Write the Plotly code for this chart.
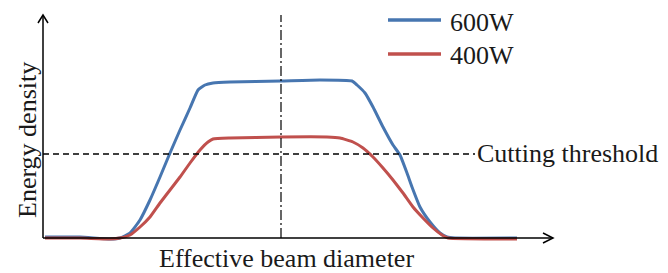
import plotly.graph_objects as go

# Beam position (0 = beam centre) and relative energy density
x_600 = [-236, -201, -171, -161, -151, -141, -131, -121, -111, -101, -91, -83, -76, -68, -51, 0, 39, 71,
         76, 84, 92, 102, 112, 119, 126, 131, 139, 149, 159, 166, 174, 236]
y_600 = [1, 1, -1, 0, 5, 18, 38, 61, 85, 108, 130, 148, 153, 155, 156, 157, 158, 157,
         153, 145, 131, 111, 93, 83, 65, 51, 31, 16, 5, 1, 0, 0]

x_400 = [-236, -201, -171, -161, -151, -141, -131, -121, -111, -101, -91, -81, -73, -68, -51, 0, 46, 59,
         72, 82, 92, 102, 112, 122, 132, 142, 152, 161, 167, 236]
y_400 = [0, 0, -1, 0, 3, 11, 21, 35, 48, 61, 75, 88, 96, 99, 100, 101, 101, 100,
         96, 90, 81, 70, 58, 45, 31, 20, 10, 3, 0, -1]

threshold = 84
series_names = ["600W", "400W"]
colors = ["#4776B0", "#C0504D"]

FONT = "Liberation Serif"
TXT = "#1a1a1a"

fig = go.Figure()
fig.add_trace(go.Scatter(x=x_600, y=y_600, mode="lines", name=series_names[0],
                         line=dict(color=colors[0], width=3, shape="spline", smoothing=0.4),
                         showlegend=False))
fig.add_trace(go.Scatter(x=x_400, y=y_400, mode="lines", name=series_names[1],
                         line=dict(color=colors[1], width=3, shape="spline", smoothing=0.4),
                         showlegend=False))

shapes = []
# axes
shapes.append(dict(type="line", x0=-238, x1=-238, y0=0, y1=222, line=dict(color="black", width=1.5)))
shapes.append(dict(type="line", x0=-238, x1=272, y0=0, y1=0, line=dict(color="black", width=1.5)))
# arrow heads
shapes.append(dict(type="path", path="M -243,215 L -238,223 L -233,215", line=dict(color="black", width=1.5)))
shapes.append(dict(type="path", path="M 262,5 L 272,0 L 262,-5", line=dict(color="black", width=1.5)))
# centre line
shapes.append(dict(type="line", x0=0, x1=0, y0=0, y1=223,
                   line=dict(color="black", width=1.2, dash="10px,3px,2px,3px")))
# threshold
shapes.append(dict(type="line", x0=-238, x1=194, y0=threshold, y1=threshold,
                   line=dict(color="black", width=1.5, dash="6px,4px")))
# legend samples
shapes.append(dict(type="line", x0=107, x1=160, y0=218, y1=218, line=dict(color=colors[0], width=3.5)))
shapes.append(dict(type="line", x0=107, x1=160, y0=184, y1=184, line=dict(color=colors[1], width=3.5)))

annotations = [
    dict(x=167, y=216, text=series_names[0], showarrow=False, xanchor="left", yanchor="middle",
         font=dict(family=FONT, size=26, color=TXT)),
    dict(x=167, y=183, text=series_names[1], showarrow=False, xanchor="left", yanchor="middle",
         font=dict(family=FONT, size=26, color=TXT)),
    dict(x=194, y=threshold + 1, text="Cutting threshold", showarrow=False, xanchor="left", yanchor="middle",
         font=dict(family=FONT, size=26, color=TXT)),
    dict(x=5, y=-20, text="Effective beam diameter", showarrow=False, xanchor="center", yanchor="middle",
         font=dict(family=FONT, size=26, color=TXT)),
    dict(x=-254, y=98, text="Energy density", showarrow=False, textangle=-90, xanchor="center", yanchor="middle",
         font=dict(family=FONT, size=26, color=TXT)),
]

# The page body has an 8px margin, so the figure is 660x265 and the ranges start 8px in
fig.update_layout(
    width=660, height=265,
    margin=dict(l=0, r=0, t=0, b=0),
    paper_bgcolor="white", plot_bgcolor="white",
    xaxis=dict(range=[-273, 387], visible=False, fixedrange=True),
    yaxis=dict(range=[-35, 230], visible=False, fixedrange=True),
    shapes=shapes, annotations=annotations,
)

fig.write_html("out.html")
